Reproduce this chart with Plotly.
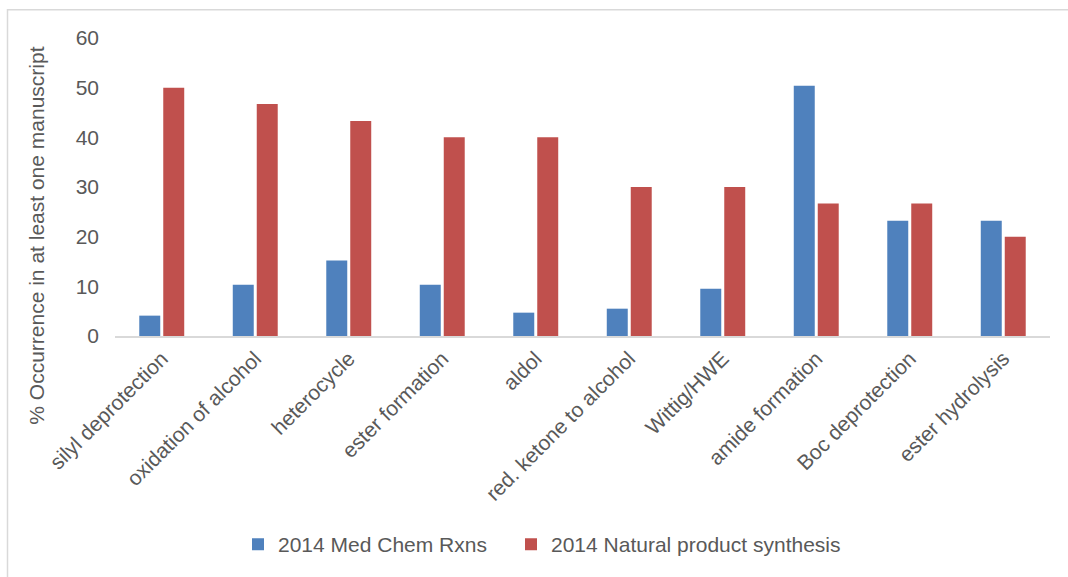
import plotly.graph_objects as go

# Reaction types and their share of manuscripts (%)
reactions = [
    "silyl deprotection",
    "oxidation of alcohol",
    "heterocycle",
    "ester formation",
    "aldol",
    "red. ketone to alcohol",
    "Wittig/HWE",
    "amide formation",
    "Boc deprotection",
    "ester hydrolysis",
]
med_chem = [4.1, 10.3, 15.2, 10.3, 4.7, 5.5, 9.5, 50.4, 23.2, 23.2]
natural_product = [50.0, 46.7, 43.3, 40.0, 40.0, 30.0, 30.0, 26.7, 26.7, 20.0]
y_ticks = [0, 10, 20, 30, 40, 50, 60]

W, H = 1068, 577
ML, MR, MT, MB = 115, 18, 38, 239
PW, PH = W - ML - MR, H - MT - MB

TEXT = "#595959"
FONT = "Liberation Sans, Arial, sans-serif"


def px_x(px):
    return (px - ML) / PW


def px_y(py):
    return (H - MB - py) / PH


def legend_box(left_px):
    return dict(
        orientation="h",
        x=px_x(left_px), xanchor="left",
        y=px_y(548), yanchor="middle",
        font=dict(size=21, color=TEXT),
        itemwidth=30,
        bgcolor="rgba(0,0,0,0)",
    )


fig = go.Figure()
fig.add_trace(go.Bar(
    x=reactions, y=med_chem, name="2014 Med Chem Rxns",
    marker=dict(color="#4F81BD", line=dict(width=0)),
    legend="legend",
))
fig.add_trace(go.Bar(
    x=reactions, y=natural_product, name="2014 Natural product synthesis",
    marker=dict(color="#C0504D", line=dict(width=0)),
    legend="legend2",
))

fig.update_layout(
    width=W, height=H,
    margin=dict(l=ML, r=MR, t=MT, b=MB),
    paper_bgcolor="white", plot_bgcolor="white",
    font=dict(family=FONT, size=21, color=TEXT),
    barmode="group", bargap=0.487, bargroupgap=0.125,
    showlegend=True,
    legend=legend_box(238),
    legend2=legend_box(511),
    xaxis=dict(
        tickangle=-45,
        showline=True, linecolor="#D9D9D9", linewidth=2,
        showgrid=False, ticks="", zeroline=False,
        tickfont=dict(size=21, color=TEXT),
    ),
    yaxis=dict(
        range=[0, 60], tickvals=y_ticks,
        showgrid=False, zeroline=False, showline=False, ticks="",
        ticklabelstandoff=15,
        tickfont=dict(size=21, color=TEXT),
    ),
    annotations=[dict(
        text="% Occurrence in at least one manuscript",
        xref="paper", yref="paper",
        x=px_x(37), y=px_y(237),
        xanchor="center", yanchor="middle",
        textangle=-90, showarrow=False,
        font=dict(size=21, color=TEXT),
    )],
    shapes=[dict(
        type="rect", xref="paper", yref="paper",
        x0=px_x(7.5), x1=px_x(1080), y0=px_y(590), y1=px_y(9.5),
        line=dict(color="#D9D9D9", width=1.5),
        fillcolor="rgba(0,0,0,0)", layer="below",
    )],
)

fig.write_html("out.html")
